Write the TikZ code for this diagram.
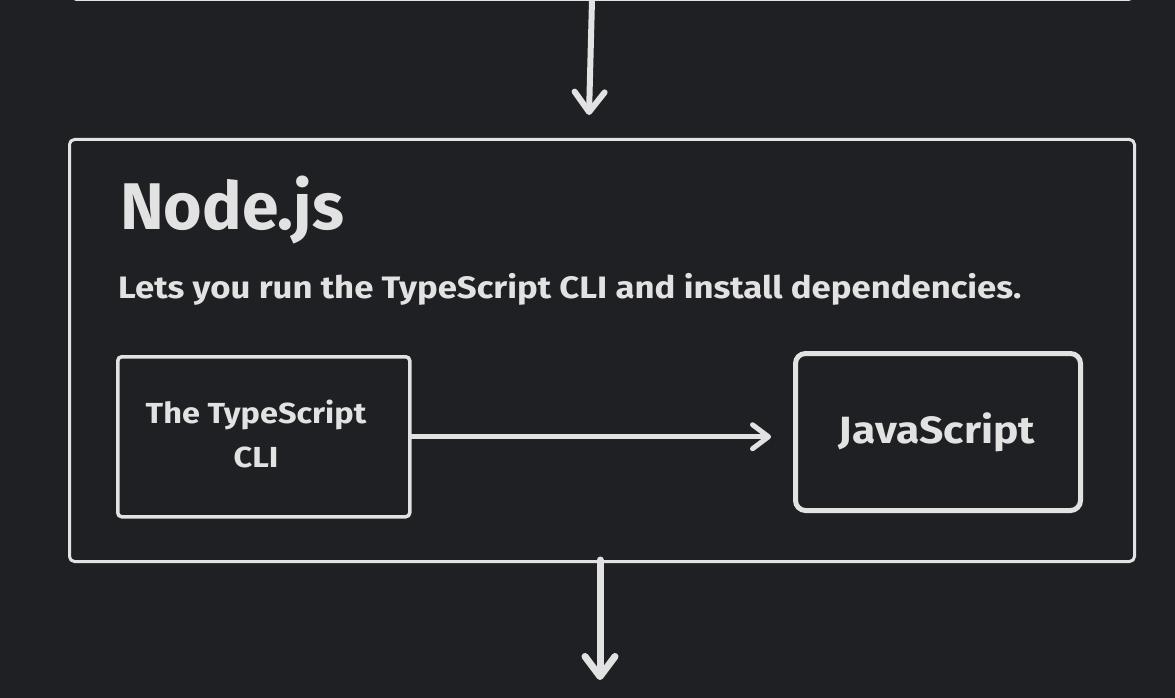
\documentclass[tikz,border=0pt]{standalone}
\usepackage{fontspec}
\setmainfont{Fira Sans}
\newfontfamily\widefont{Fira Sans}[FakeStretch=1.12]
\usetikzlibrary{arrows.meta,calc}
\definecolor{bg}{HTML}{1F2023}
\definecolor{ink}{HTML}{E2E2E2}
\tikzset{
  box/.style={draw=ink, fill=bg, line width=3pt, rounded corners=5pt, inner sep=0pt},
  jsbox/.style={draw=ink, fill=bg, line width=5pt, rounded corners=10pt, inner sep=0pt},
  arr/.style={draw=ink, line width=5pt, line cap=round, -{Straight Barb[length=16pt, width=24pt, round]}},
  toparr/.style={draw=ink, line width=6pt, line cap=round, -{Straight Barb[length=20pt, width=30pt, round]}},
  botarr/.style={draw=ink, line width=7pt, line cap=round, -{Straight Barb[length=20pt, width=30pt, round]}},
  txt/.style={text=ink, font=\bfseries, inner sep=0pt}
}
\begin{document}
\begin{tikzpicture}[x=1pt, y=-1pt]
  \fill[bg] (0,0) rectangle (1175,698);
  \useasboundingbox (0,0) rectangle (1175,698);
  % previous box (only its bottom edge is visible)
  \node[box, minimum width=1062pt, minimum height=100pt, anchor=south west] (prev) at (70,1) {};
  % main Node.js box
  \node[box, minimum width=1065pt, minimum height=422pt, anchor=north west] (nodejs) at (68,138) {};
  \node[txt, anchor=base west, font=\bfseries\fontsize{66}{72}\selectfont] (title) at (120,229) {Node.js};
  \node[txt, anchor=base west, font=\widefont\bfseries\fontsize{31}{36}\selectfont] (sub) at (118,298) {Lets you run the TypeScript CLI and install dependencies.};
  % inner boxes
  \node[box, line width=3.5pt, rounded corners=4pt, minimum width=292pt, minimum height=160pt, anchor=north west] (ts) at (116,355) {};
  \node[txt, align=center, font=\widefont\bfseries\fontsize{29}{44}\selectfont] (tstext) at (256,434) {The TypeScript\\CLI};
  \node[jsbox, minimum width=285pt, minimum height=157pt, anchor=north west] (js) at (793,351) {};
  \node[txt, font=\widefont\bfseries\fontsize{38}{44}\selectfont] (jstext) at (937,432) {JavaScript};
  % connectors
  \coordinate (topstart) at (592,0);
  \coordinate (topend) at (589,115);
  \draw[toparr] (topstart) -- (topend);
  \draw[arr] (ts.east) -- (ts.east -| js.west) [shorten >=22pt];
  \coordinate (botstart) at (600,560);
  \coordinate (botend) at (600,680);
  \draw[botarr] (botstart) -- (botend);
\end{tikzpicture}
\end{document}
